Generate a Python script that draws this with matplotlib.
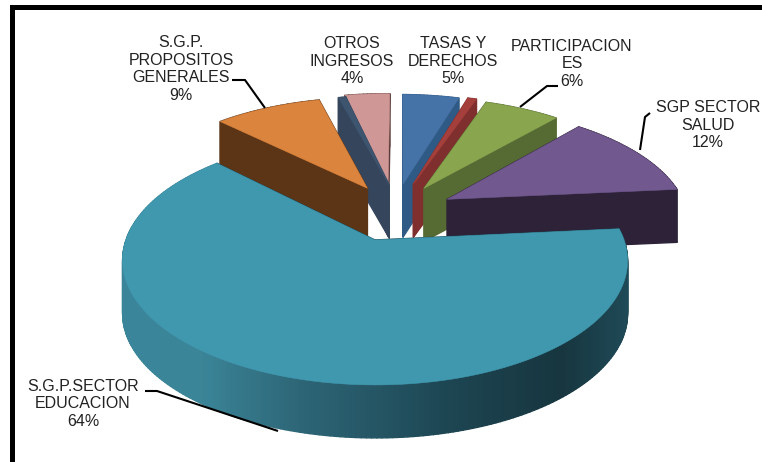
import numpy as np
import matplotlib
matplotlib.use("Agg")
import matplotlib.pyplot as plt
from matplotlib.colors import to_rgb
from matplotlib.patches import Polygon, Rectangle

plt.rcParams['font.family'] = ['Liberation Sans', 'DejaVu Sans']

# data, clockwise from twelve o'clock
categories = ["TASAS Y\nDERECHOS", "", "PARTICIPACION\nES", "SGP SECTOR\nSALUD",
              "S.G.P.SECTOR\nEDUCACION", "S.G.P.\nPROPOSITOS\nGENERALES", "", "OTROS\nINGRESOS"]
values = [4.5, 0.7, 6.0, 12.0, 64.0, 8.6, 0.6, 3.6]
pct_labels = ["5%", "", "6%", "12%", "64%", "9%", "", "4%"]

# style
top_colors = ["#4573a7", "#a53f3c", "#89a54e", "#71588f", "#4098af", "#db843d", "#3e5570", "#cf9896"]
side_colors = ["#2f5a85", "#7f2f2d", "#566a33", "#2d2238", "#1d4552", "#5c3416", "#35465c", "#5c3c3a"]
explode_x = [0.135, 0.18, 0.225, 0.32, 0.012, -0.02, 0.075, 0.07]
explode_y = [0.50, 0.50, 0.46, 0.356, 0.0, 0.46, 0.49, 0.51]
start_deg = 1.1
draw_order = [7, 6, 0, 1, 2, 5, 3, 4]
label_pos = [(453, 61), None, (572, 64), (708, 125), (83, 404), (181, 69), None, (352, 61)]
leaders = [None, None, [(558, 86), (547, 86), (520, 107)],
           [(650, 113), (645, 117), (640, 150)],
           [(145, 391), (157, 391), (278, 431)],
           [(232, 80), (245, 80), (265, 108)], None, None]
CX, CY, RX, RY, K, DEPTH = 372, 240, 249, 121, 0.165, 53
edu_x = [122, 200, 300, 450, 560, 628]
edu_c = ["#3a8599", "#3b8598", "#2d6677", "#1d4552", "#17363f", "#1f4a57"]


def project(X, Y):
    s = 1 / (1 + K * Y)
    return CX + RX * X * s, CY - RY * Y * s


fig = plt.figure(figsize=(7.62, 4.62), dpi=100, facecolor="white")
ax = fig.add_axes([0, 0, 1, 1])
ax.set_xlim(0, 762)
ax.set_ylim(462, 0)
ax.axis("off")

fractions = np.array(values) / np.sum(values)
edges = np.concatenate([[0], np.cumsum(fractions)]) * 2 * np.pi + np.radians(start_deg)

for i in draw_order:
    a0, a1 = edges[i], edges[i + 1]
    n = max(int(np.degrees(a1 - a0)), 2) + 1
    ang = np.linspace(a0, a1, n)
    X = np.concatenate([[0], np.sin(ang)]) + explode_x[i]
    Y = np.concatenate([[0], np.cos(ang)]) + explode_y[i]
    px, py = project(X, Y)
    quads = []
    # radial walls
    for j in (1, n):
        quads.append((Y[0] / 2 + Y[j] / 2, [0, j], side_colors[i]))
    # outer wall
    for j in range(1, n):
        col = side_colors[i]
        if i == 4:
            mx = (px[j] + px[j + 1]) / 2
            rgb = [np.interp(mx, edu_x, [to_rgb(c)[k] for c in edu_c]) for k in range(3)]
            col = tuple(rgb)
        quads.append(((Y[j] + Y[j + 1]) / 2, [j, j + 1], col))
    quads.sort(key=lambda q: -q[0])
    for _, (p, q), col in quads:
        ax.add_patch(Polygon([(px[p], py[p]), (px[q], py[q]),
                              (px[q], py[q] + DEPTH), (px[p], py[p] + DEPTH)],
                             closed=True, fc=col, ec=col, lw=1.0, joinstyle="round"))
    ax.add_patch(Polygon(np.column_stack([px, py]), closed=True,
                         fc=top_colors[i], ec=top_colors[i], lw=0.4))

for i, cat in enumerate(categories):
    if label_pos[i] is not None:
        ax.text(*label_pos[i], cat + "\n" + pct_labels[i], ha="center", va="center",
                fontsize=11.5, color="#222222", linespacing=1.21)
    if leaders[i] is not None:
        xs, ys = zip(*leaders[i])
        ax.plot(xs, ys, color="black", lw=1.5, solid_capstyle="butt")

ax.add_patch(Rectangle((10, 5), 752, 5, fc="black", ec="none", zorder=10))
ax.add_patch(Rectangle((10, 5), 5, 457, fc="black", ec="none", zorder=10))

fig.savefig("out.png", dpi=100, facecolor="white")
